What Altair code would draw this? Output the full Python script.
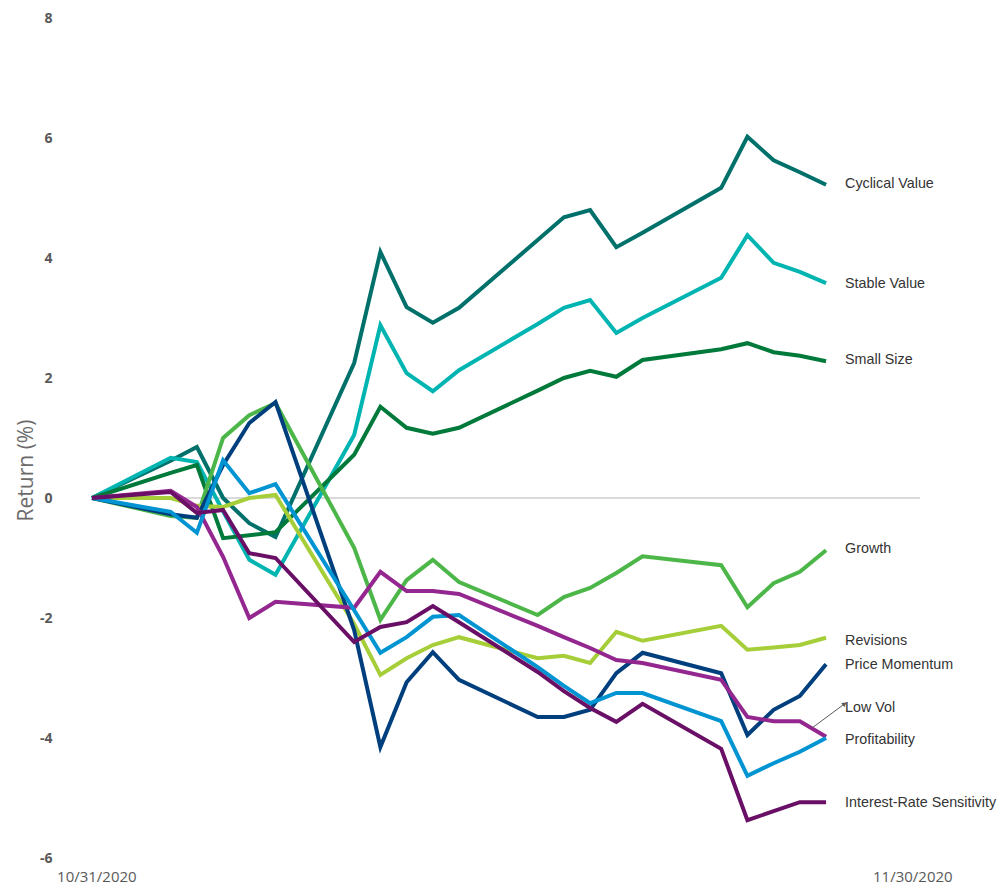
import altair as alt
import pandas as pd

dates = ["2020-10-30", "2020-11-02", "2020-11-03", "2020-11-04", "2020-11-05", "2020-11-06",
         "2020-11-09", "2020-11-10", "2020-11-11", "2020-11-12", "2020-11-13",
         "2020-11-16", "2020-11-17", "2020-11-18", "2020-11-19", "2020-11-20",
         "2020-11-23", "2020-11-24", "2020-11-25", "2020-11-26", "2020-11-27"]

series_names = ["Cyclical Value", "Stable Value", "Small Size", "Growth", "Revisions",
                "Price Momentum", "Low Vol", "Profitability", "Interest-Rate Sensitivity"]

cyclical_value = [0, 0.62, 0.85, 0.0, -0.42, -0.65, 2.25, 4.1, 3.18, 2.92, 3.17, 4.3, 4.68, 4.8, 4.18, 4.42, 5.17, 6.02, 5.63, 5.43, 5.22]
stable_value = [0, 0.67, 0.6, -0.22, -1.03, -1.28, 1.05, 2.88, 2.08, 1.78, 2.13, 2.9, 3.17, 3.3, 2.75, 3.0, 3.67, 4.38, 3.92, 3.77, 3.58]
small_size = [0, 0.42, 0.55, -0.67, -0.62, -0.57, 0.72, 1.52, 1.17, 1.07, 1.17, 1.79, 2.0, 2.12, 2.02, 2.3, 2.48, 2.58, 2.43, 2.37, 2.28]
growth = [0, -0.3, -0.33, 1.0, 1.38, 1.58, -0.83, -2.03, -1.37, -1.03, -1.4, -1.95, -1.65, -1.5, -1.25, -0.97, -1.12, -1.82, -1.42, -1.23, -0.87]
revisions = [0, 0.0, -0.13, -0.15, 0.0, 0.05, -2.1, -2.95, -2.67, -2.45, -2.32, -2.67, -2.63, -2.75, -2.23, -2.38, -2.13, -2.53, -2.49, -2.45, -2.33]
price_momentum = [0, -0.27, -0.33, 0.55, 1.25, 1.6, -2.2, -4.15, -3.07, -2.57, -3.03, -3.65, -3.65, -3.53, -2.92, -2.58, -2.92, -3.95, -3.53, -3.3, -2.77]
low_vol = [0, 0.12, -0.15, -0.98, -2.0, -1.73, -1.83, -1.23, -1.55, -1.55, -1.6, -2.13, -2.32, -2.5, -2.7, -2.75, -3.03, -3.65, -3.72, -3.72, -3.98]
profitability = [0, -0.23, -0.58, 0.63, 0.08, 0.23, -1.87, -2.58, -2.32, -1.98, -1.95, -2.82, -3.13, -3.42, -3.25, -3.25, -3.72, -4.63, -4.42, -4.23, -4.0]
interest_rate = [0, 0.1, -0.25, -0.2, -0.92, -1.0, -2.4, -2.15, -2.07, -1.8, -2.07, -2.9, -3.22, -3.5, -3.73, -3.43, -4.18, -5.37, -5.22, -5.07, -5.07]

label_y = [5.23, 3.57, 2.3, -0.85, -2.38, -2.78, -3.5, -4.03, -5.08]

colors = ["#00706A", "#00B5B1", "#007A3B", "#4CB748", "#A6CE39",
          "#003F7D", "#93278F", "#0094D3", "#6A0F66"]

y_ticks = [-6, -4, -2, 0, 2, 4, 6, 8]
x_tick_labels = ["10/31/2020", "11/30/2020"]

arrow_start = ("2020-11-26T11:20:00Z", -3.83)
arrow_end = ("2020-11-27T17:00:00Z", -3.43)

all_values = [cyclical_value, stable_value, small_size, growth, revisions,
              price_momentum, low_vol, profitability, interest_rate]

rows = []
for name, vals in zip(series_names, all_values):
    for d, v in zip(dates, vals):
        rows.append({"date": d, "series": name, "value": v})
df = pd.DataFrame(rows)

labels_df = pd.DataFrame({"date": [dates[-1]] * len(series_names),
                          "series": series_names, "ly": label_y})

x_scale = alt.Scale(type="utc",
                    domain=[alt.DateTime(year=2020, month=10, date=30, utc=True),
                            alt.DateTime(year=2020, month=11, date=30, hours=14, utc=True)])
y_scale = alt.Scale(domain=[-6, 8], nice=False, zero=False)
color_scale = alt.Scale(domain=series_names, range=colors)

x_axis = alt.Axis(
    values=[alt.DateTime(year=2020, month=10, date=30, hours=4, utc=True),
            alt.DateTime(year=2020, month=11, date=30, hours=7, utc=True)],
    labelExpr=f"datum.value < 1605300000000 ? '{x_tick_labels[0]}' : '{x_tick_labels[1]}'",
    grid=False, domain=False, ticks=False, labelFlush=False, labelOverlap=False,
    labelFont="Open Sans", labelFontSize=15, labelColor="#595959",
    labelBaseline="alphabetic", labelPadding=23,
    title=None)

y_axis = alt.Axis(
    values=y_ticks, labelExpr="datum.value + ''",
    grid=False, domain=False, ticks=False,
    labelFont="Open Sans", labelFontWeight="bold", labelFontSize=14, labelColor="#595959",
    labelPadding=40,
    title="Return (%)", titleFont="Open Sans", titleFontSize=21, titleFontWeight="normal",
    titleColor="#6b6b6b", titleX=-56, titleY=452)

zero = alt.Chart(pd.DataFrame({"y": [0]})).mark_rule(color="#d9d9d9", strokeWidth=2).encode(
    y=alt.Y("y:Q", scale=y_scale, axis=y_axis))

lines = alt.Chart(df).mark_line(strokeWidth=4).encode(
    x=alt.X("date:T", scale=x_scale, axis=x_axis),
    y=alt.Y("value:Q", scale=y_scale, axis=y_axis),
    color=alt.Color("series:N", scale=color_scale, legend=None),
    order=alt.Order("date:T"),
    detail="series:N")

texts = alt.Chart(labels_df).mark_text(
    align="left", baseline="middle", dx=19, font="Liberation Sans", fontSize=14.3,
    color="#333333").encode(
    x=alt.X("date:T", scale=x_scale),
    y=alt.Y("ly:Q", scale=y_scale),
    text="series:N")

arrow_df = pd.DataFrame({"x0": [arrow_start[0]], "y0": [arrow_start[1]],
                         "x1": [arrow_end[0]], "y1": [arrow_end[1]]})
arrow = alt.Chart(arrow_df).mark_rule(color="#595959", strokeWidth=1).encode(
    x=alt.X("x0:T", scale=x_scale), x2="x1:T",
    y=alt.Y("y0:Q", scale=y_scale), y2="y1:Q")
arrow_head = alt.Chart(arrow_df).mark_point(
    shape="triangle-up", filled=True, size=28, angle=54, color="#595959", opacity=1).encode(
    x=alt.X("x1:T", scale=x_scale), y=alt.Y("y1:Q", scale=y_scale))

chart = alt.layer(zero, lines, texts, arrow, arrow_head).properties(
    width=828, height=840,
    padding={"left": 84, "top": 10, "right": 77, "bottom": 28},
    autosize=alt.AutoSizeParams(type="none"),
    background="white",
).configure_view(strokeWidth=0)

chart.save("out.html", embed_options={"renderer": "svg", "actions": False})
